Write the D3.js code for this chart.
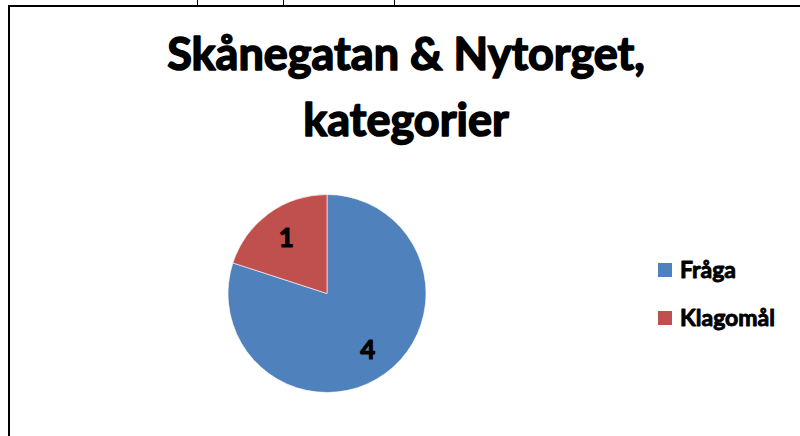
<!DOCTYPE html>
<html>
<head>
<meta charset="utf-8">
<script src="https://cdn.jsdelivr.net/npm/d3@7"></script>
<style>
  body { margin:0; background:#fff; }
  svg text { font-family: Lato, "Open Sans", sans-serif; font-weight: bold; fill:#000; stroke:#000; stroke-linejoin:round; }
</style>
</head>
<body>
<svg id="chart" width="800" height="436"></svg>
<script>
// data
var categories = ["Fråga", "Klagomål"];
var values = [4, 1];
var colors = ["#4F81BD", "#C0504D"];
var titleLines = ["Skånegatan & Nytorget,", "kategorier"];
// table cell borders peeking in at the top
var cellEdges = [197, 283, 394];

var svg = d3.select("#chart");

// frame of the embedded chart
svg.append("line")
    .attr("x1", 8).attr("x2", 800)
    .attr("y1", 6).attr("y2", 6)
    .attr("stroke", "#000").attr("stroke-width", 2);
svg.append("line")
    .attr("x1", 9).attr("x2", 9)
    .attr("y1", 5).attr("y2", 436)
    .attr("stroke", "#000").attr("stroke-width", 2);

svg.selectAll(".cell")
    .data(cellEdges)
    .enter().append("line")
    .attr("class", "cell")
    .attr("x1", function(d){ return d + 0.5; })
    .attr("x2", function(d){ return d + 0.5; })
    .attr("y1", 0).attr("y2", 6)
    .attr("stroke", "#000").attr("stroke-width", 1);

// title
svg.append("g").selectAll("text")
    .data(titleLines)
    .enter().append("text")
    .attr("x", 406)
    .attr("y", function(d, i){ return 70 + i * 66; })
    .attr("text-anchor", "middle")
    .style("font-size", "45px")
    .style("stroke-width", "1.6px")
    .text(function(d){ return d; });

// pie
var center = {x:327, y:293.5};
var radius = 99;

var pie = d3.pie().sort(null).value(function(d){ return d; });
var arc = d3.arc().innerRadius(0).outerRadius(radius);
var labelArc = d3.arc().innerRadius(0).outerRadius(radius * 1.4);

var pieG = svg.append("g")
    .attr("transform", "translate(" + center.x + "," + center.y + ")");

pieG.selectAll("path")
    .data(pie(values))
    .enter().append("path")
    .attr("d", arc)
    .attr("fill", function(d, i){ return colors[i]; })
    .attr("stroke", "#fff")
    .attr("stroke-width", 0.6);

pieG.selectAll("text")
    .data(pie(values))
    .enter().append("text")
    .attr("transform", function(d){ return "translate(" + labelArc.centroid(d) + ")"; })
    .attr("text-anchor", "middle")
    .attr("dy", "0.36em")
    .style("font-size", "26px")
    .style("stroke-width", "1.1px")
    .text(function(d){ return d.value; });

// legend
var legend = svg.append("g").attr("transform", "translate(658,263)");
var item = legend.selectAll("g")
    .data(categories)
    .enter().append("g")
    .attr("transform", function(d, i){ return "translate(0," + (i * 48) + ")"; });

item.append("rect")
    .attr("width", 14).attr("height", 14)
    .attr("fill", function(d, i){ return colors[i]; });

item.append("text")
    .attr("x", 22)
    .attr("y", 15)
    .style("font-size", "23px")
    .style("stroke-width", "0.9px")
    .text(function(d){ return d; });
</script>
</body>
</html>
